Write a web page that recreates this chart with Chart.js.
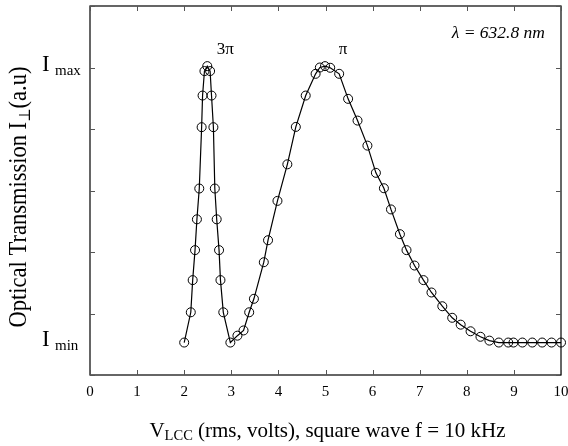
<!doctype html>
<html lang="en">
<head>
  <meta charset="utf-8">
  <title>Optical Transmission</title>
  <style>
    html, body { margin: 0; padding: 0; background: #fff; }
  </style>
</head>
<body>
  <canvas id="grafico" width="568" height="446"></canvas>

  <script src="https://cdn.jsdelivr.net/npm/chart.js"></script>
  <script>
    // values: V (rms volts) and normalised transmission (0 = Imin, 1 = Imax)
    const voltaje = [
      2.00, 2.14, 2.18, 2.23, 2.27, 2.32, 2.37, 2.39, 2.43, 2.49,
      2.55, 2.58, 2.62, 2.65, 2.69, 2.74, 2.77, 2.83, 2.98, 3.13,
      3.26, 3.38, 3.48, 3.69, 3.78, 3.98, 4.19, 4.37, 4.58, 4.79,
      4.88, 4.99, 5.10, 5.29, 5.48, 5.68, 5.89, 6.07, 6.24, 6.39,
      6.58, 6.72, 6.89, 7.08, 7.25, 7.48, 7.69, 7.87, 8.08, 8.29,
      8.48, 8.68, 8.88, 8.99, 9.18, 9.39, 9.60, 9.80, 10.00
    ];
    const transmision = [
      0.000, 0.110, 0.227, 0.336, 0.448, 0.560, 0.783, 0.898, 0.987, 1.005,
      0.987, 0.898, 0.783, 0.560, 0.448, 0.336, 0.227, 0.110, 0.000, 0.025,
      0.044, 0.110, 0.159, 0.292, 0.372, 0.515, 0.648, 0.784, 0.898, 0.977,
      1.000, 1.005, 0.999, 0.977, 0.886, 0.807, 0.716, 0.617, 0.561, 0.484,
      0.394, 0.336, 0.280, 0.227, 0.182, 0.132, 0.090, 0.065, 0.041, 0.021,
      0.007, 0.000, 0.000, 0.000, 0.000, 0.000, 0.000, 0.000, 0.000
    ];
    const xTicks = [0, 1, 2, 3, 4, 5, 6, 7, 8, 9, 10];
    const yTicks = [-0.118, 0.1056, 0.3292, 0.5528, 0.7764, 1.0, 1.2236];
    const yEtiquetas = [{ value: 1, base: 'I', sub: 'max' }, { value: 0, base: 'I', sub: 'min' }];
    const picos = [{ x: 2.49, text: '3π' }, { x: 4.99, text: 'π' }];
    const lambdaTexto = 'λ = 632.8 nm';

    const serif = '"Liberation Serif", "DejaVu Serif", serif';
    const puntos = voltaje.map((v, i) => ({ x: v, y: transmision[i] }));

    // frame, inward ticks and the texts that need subscripts
    const marco = {
      id: 'marco',
      afterDraw(chart) {
        const ctx = chart.ctx;
        const a = chart.chartArea;
        const sx = chart.scales.x, sy = chart.scales.y;
        ctx.save();
        ctx.strokeStyle = '#000';
        ctx.lineWidth = 1.2;
        ctx.strokeRect(a.left, a.top, a.right - a.left, a.bottom - a.top);

        ctx.lineWidth = 1;
        ctx.strokeStyle = '#555';
        const largo = 5;
        ctx.beginPath();
        xTicks.forEach(v => {
          const px = Math.round(sx.getPixelForValue(v)) + 0.5;
          ctx.moveTo(px, a.bottom); ctx.lineTo(px, a.bottom - largo);
          ctx.moveTo(px, a.top); ctx.lineTo(px, a.top + largo);
        });
        yTicks.forEach(v => {
          const py = Math.round(sy.getPixelForValue(v)) + 0.5;
          ctx.moveTo(a.left, py); ctx.lineTo(a.left + largo, py);
          ctx.moveTo(a.right, py); ctx.lineTo(a.right - largo, py);
        });
        ctx.stroke();

        ctx.fillStyle = '#000';
        ctx.textBaseline = 'alphabetic';

        // I max / I min
        yEtiquetas.forEach(e => {
          const py = sy.getPixelForValue(e.value);
          ctx.textAlign = 'left';
          ctx.font = '23px ' + serif;
          ctx.fillText(e.base, 42, py + 3);
          ctx.font = '15px ' + serif;
          ctx.fillText(e.sub, 55, py + 7);
        });

        // peak labels
        ctx.textAlign = 'center';
        ctx.font = '17px ' + serif;
        picos.forEach(p => {
          ctx.fillText(p.text, sx.getPixelForValue(p.x) + 18, a.top + 48);
        });

        // wavelength
        ctx.textAlign = 'right';
        ctx.font = 'italic 17.5px ' + serif;
        ctx.fillText(lambdaTexto, a.right - 16, a.top + 32);

        // x title with subscript
        const cx = (a.left + a.right) / 2 + 2;
        const partes = [
          { t: 'V', f: '21px ' + serif, dy: 0 },
          { t: 'LCC', f: '14.5px ' + serif, dy: 3 },
          { t: ' (rms, volts), square wave f = 10 kHz', f: '21px ' + serif, dy: 0 }
        ];
        dibujarPartes(ctx, partes, cx, 437);

        // y title rotated, a little narrower than the plain font
        ctx.translate(26, 197);
        ctx.rotate(-Math.PI / 2);
        ctx.scale(0.9, 1);
        const partesY = [
          { t: 'Optical Transmission I', f: '25px ' + serif, dy: 0 },
          { t: '⊥', f: '16px ' + serif, dy: 4 },
          { t: '(a.u)', f: '25px ' + serif, dy: 0 }
        ];
        dibujarPartes(ctx, partesY, 0, 0);
        ctx.restore();
      }
    };

    function dibujarPartes(ctx, partes, cx, base) {
      let total = 0;
      partes.forEach(p => { ctx.font = p.f; p.w = ctx.measureText(p.t).width; total += p.w; });
      let x = cx - total / 2;
      ctx.textAlign = 'left';
      partes.forEach(p => {
        ctx.font = p.f;
        ctx.fillText(p.t, x, base + p.dy);
        x += p.w;
      });
    }

    const lienzo = document.getElementById('grafico');
    const grafico = new Chart(lienzo, {
      type: 'scatter',
      data: {
        datasets: [{
          data: puntos,
          showLine: true,
          borderColor: '#000',
          borderWidth: 1.2,
          tension: 0,
          pointRadius: 4.5,
          pointBorderWidth: 1,
          pointBorderColor: '#000',
          pointBackgroundColor: 'rgba(0,0,0,0)',
          clip: false
        }]
      },
      options: {
        responsive: false,
        animation: false,
        devicePixelRatio: 1,
        layout: { padding: { top: 6, right: 7, left: 0, bottom: 0 } },
        plugins: { legend: { display: false }, tooltip: { enabled: false } },
        scales: {
          x: {
            type: 'linear',
            min: 0,
            max: 10,
            afterBuildTicks: s => { s.ticks = xTicks.map(v => ({ value: v })); },
            ticks: { font: { family: serif, size: 15 }, color: '#000', padding: 8, maxRotation: 0, autoSkip: false },
            grid: { display: false, drawTicks: false },
            border: { display: false },
            afterFit: s => { s.height = 71; s.paddingLeft = 0; s.paddingRight = 0; }
          },
          y: {
            min: yTicks[0],
            max: yTicks[yTicks.length - 1],
            ticks: { display: false },
            grid: { display: false, drawTicks: false },
            border: { display: false },
            afterFit: s => { s.width = 90; }
          }
        }
      },
      plugins: [marco]
    });
  </script>
</body>
</html>
